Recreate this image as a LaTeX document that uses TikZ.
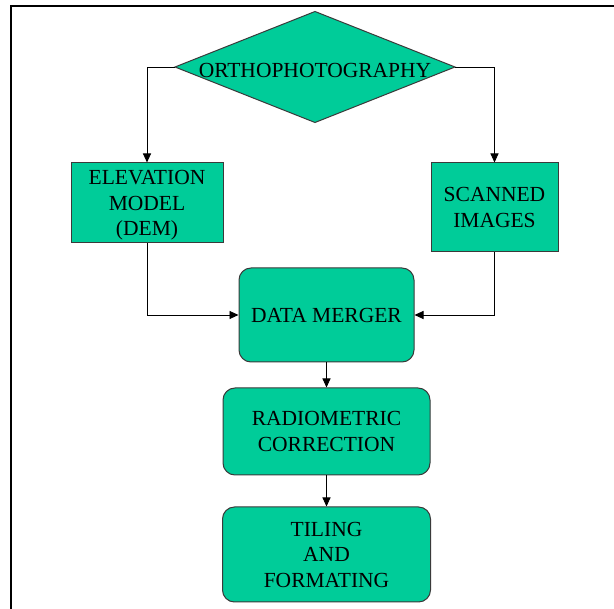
\documentclass[tikz,border=0pt]{standalone}
\usepackage{fontspec}
\setmainfont{Liberation Serif}
\usetikzlibrary{shapes.geometric,arrows.meta}
\definecolor{boxgreen}{HTML}{00CC99}
\definecolor{boxedge}{HTML}{3A3A3A}
\tikzset{
  boxfont/.style={font=\fontsize{21.5}{25.5}\selectfont},
  flowbox/.style={draw=boxedge, line width=1pt, fill=boxgreen, inner sep=0pt,
    align=center, boxfont, text depth=0pt},
  roundbox/.style={flowbox, rounded corners=12pt},
  decision/.style={diamond, draw=boxedge, line width=1pt, fill=boxgreen,
    inner sep=0pt, outer sep=0pt},
  link/.style={draw=black, line width=0.9pt, -{Triangle[length=9pt,width=8pt]}},
  frameline/.style={line width=2.5pt, draw=black}
}
\begin{document}
\begin{tikzpicture}[x=1pt,y=-1pt]
  \useasboundingbox (0,0) rectangle (614,609);
  \fill[white] (0,0) rectangle (614,609);
  % page frame
  \draw[frameline] (11,609) -- (11,6) -- (614,6);

  % decision at the top
  \node[decision, minimum width=280pt, minimum height=111pt,
    label={[boxfont, yshift=-3pt]center:ORTHOPHOTOGRAPHY}]
    (ortho) at (315,67) {};

  % input boxes
  \node[flowbox, minimum width=152pt, minimum height=80pt] (elev) at (147,203)
    {ELEVATION\\MODEL\\(DEM)};
  \node[flowbox, minimum width=127pt, minimum height=89pt] (scan) at (494.5,207.5)
    {SCANNED\\IMAGES};

  % processing chain
  \node[roundbox, minimum width=175pt, minimum height=94pt] (merge) at (326.5,315)
    {DATA MERGER};
  \node[roundbox, minimum width=207pt, minimum height=87pt] (radio) at (326.5,431.5)
    {RADIOMETRIC\\CORRECTION};
  \node[roundbox, minimum width=208pt, minimum height=95pt] (tile) at (326.5,554.5)
    {TILING\\AND\\FORMATING};

  % connectors
  \draw[link] (ortho.west) -| (elev.north);
  \draw[link] (ortho.east) -| (scan.north);
  \draw[link] (elev.south) |- (merge.west);
  \draw[link] (scan.south) |- (merge.east);
  \draw[link] (merge.south) -- (radio.north);
  \draw[link] (radio.south) -- (tile.north);
\end{tikzpicture}
\end{document}
